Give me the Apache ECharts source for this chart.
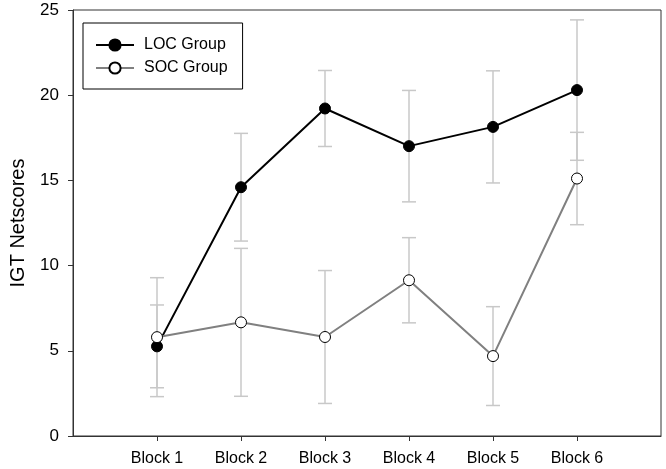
<!DOCTYPE html>
<html>
<head>
<meta charset="utf-8">
<script src="https://cdn.jsdelivr.net/npm/echarts@6/dist/echarts.min.js"></script>
<style>html,body{margin:0;padding:0;background:#fff}#c{width:666px;height:469px}</style>
</head>
<body>
<div id="c"></div>
<script>
var blocks = [1, 2, 3, 4, 5, 6];
var blockLabels = ['Block 1', 'Block 2', 'Block 3', 'Block 4', 'Block 5', 'Block 6'];
var locMean = [5.26, 14.6, 19.22, 17.01, 18.14, 20.3];
var locErr = [2.43, 3.16, 2.23, 3.27, 3.29, 4.12];
var socMean = [5.80, 6.67, 5.81, 9.14, 4.69, 15.11];
var socErr = [3.49, 4.34, 3.90, 2.50, 2.90, 2.71];
var yTicks = [0, 5, 10, 15, 20, 25];

var FONT = '"Liberation Sans", Arial, sans-serif';

function pts(means) { return blocks.map(function (b, i) { return [b, means[i]]; }); }
function errs(means, e) { return blocks.map(function (b, i) { return [b, means[i] - e[i], means[i] + e[i]]; }); }

function errRender(params, api) {
  var x = api.value(0);
  var lo = api.coord([x, api.value(1)]);
  var hi = api.coord([x, api.value(2)]);
  var hw = 7;
  var st = { stroke: '#c8c8c8', lineWidth: 1.5, fill: null };
  return {
    type: 'group',
    children: [
      { type: 'line', shape: { x1: lo[0], y1: lo[1], x2: hi[0], y2: hi[1] }, style: st },
      { type: 'line', shape: { x1: lo[0] - hw, y1: lo[1], x2: lo[0] + hw, y2: lo[1] }, style: st },
      { type: 'line', shape: { x1: hi[0] - hw, y1: hi[1], x2: hi[0] + hw, y2: hi[1] }, style: st }
    ]
  };
}

var chart = echarts.init(document.getElementById('c'), null, { renderer: 'canvas' });
chart.setOption({
  animation: false,
  backgroundColor: '#fff',
  textStyle: { fontFamily: FONT },
  grid: { left: 70, right: 5, top: 10, bottom: 33, show: true, borderColor: '#333', borderWidth: 1, backgroundColor: 'transparent' },
  legend: {
    orient: 'vertical',
    left: 83, top: 23,
    borderColor: '#000', borderWidth: 1,
    padding: [14, 15, 13, 12],
    itemWidth: 38, itemHeight: 14, itemGap: 7,
    textStyle: { fontFamily: FONT, fontSize: 16, color: '#000', padding: [0, 0, 0, 5] },
    data: ['LOC Group', 'SOC Group']
  },
  xAxis: {
    type: 'value', min: 0, max: 7, interval: 1,
    splitLine: { show: false },
    axisLine: { lineStyle: { color: '#333', width: 1 } },
    axisTick: { show: true, length: 5, inside: false, customValues: blocks, lineStyle: { color: '#333' } },
    axisLabel: {
      fontFamily: FONT, fontSize: 16, color: '#000', margin: 15,
      customValues: blocks,
      formatter: function (v) { var i = blocks.indexOf(v); return i >= 0 ? blockLabels[i] : ''; }
    }
  },
  yAxis: {
    type: 'value', min: 0, max: 25, interval: 5,
    name: 'IGT Netscores', nameLocation: 'middle', nameGap: 45, nameRotate: 90,
    nameTextStyle: { fontFamily: FONT, fontSize: 20, color: '#000' },
    splitLine: { show: false },
    axisLine: { show: true, lineStyle: { color: '#333', width: 1 } },
    axisTick: { show: true, length: 5, inside: false, lineStyle: { color: '#333' } },
    axisLabel: {
      fontFamily: FONT, fontSize: 17, color: '#000', margin: 14,
      customValues: yTicks
    }
  },
  series: [
    { type: 'custom', name: 'locErr', renderItem: errRender, data: errs(locMean, locErr), z: 1, silent: true, encode: { x: 0, y: [1, 2] } },
    { type: 'custom', name: 'socErr', renderItem: errRender, data: errs(socMean, socErr), z: 1, silent: true, encode: { x: 0, y: [1, 2] } },
    {
      type: 'line', name: 'LOC Group', data: pts(locMean), z: 3,
      symbol: 'circle', symbolSize: 11, showSymbol: true,
      lineStyle: { color: '#000', width: 2 },
      itemStyle: { color: '#000', borderColor: '#000', borderWidth: 1 }
    },
    {
      type: 'line', name: 'SOC Group', data: pts(socMean), z: 4,
      symbol: 'circle', symbolSize: 11, showSymbol: true,
      lineStyle: { color: '#808080', width: 2 },
      itemStyle: { color: '#fff', borderColor: '#000', borderWidth: 1 }
    }
  ]
});
</script>
</body>
</html>
